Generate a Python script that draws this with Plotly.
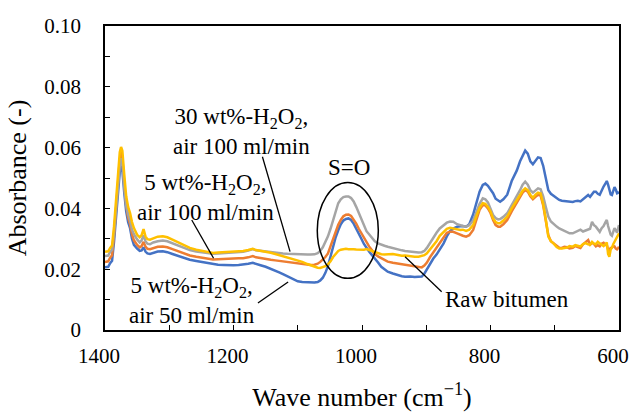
import plotly.graph_objects as go

wavenumber = [1400,1395,1392,1389,1386,1383,1380,1377,1375,1373,1370,1367,1364,1361,1358,1355,1350,1346,1343,1340,1337,1334,1330,1325,1318,1310,1303,1295,1285,1275,1268,1258,1248,1240,1232,1224,1215,1207,1200,1192,1185,1177,1170,1165,1158,1150,1142,1135,1128,1123,1116,1110,1105,1100,1093,1085,1080,1074,1069,1065,1061,1057,1053,1049,1045,1041,1037,1033,1029,1025,1021,1017,1013,1009,1005,1001,997,993,989,985,980,975,970,965,960,952,944,938,933,925,918,912,907,903,899,894,889,884,879,873,868,863,858,852,847,843,838,833,827,822,817,812,808,804,800,796,792,788,785,780,774,767,759,754,750,746,742,738,734,730,726,722,718,714,710,706,702,697,693,689,685,681,677,672,668,664,660,656,652,648,645,642,639,636,633,630,627,624,621,619,617,615,613,611,609,607,605,603,601,600]

air50_5wt = [.0206,.0208,.0220,.0228,.0290,.0370,.0450,.0520,.0540,.0525,.0450,.0390,.0355,.0335,.0300,.0280,.0268,.0260,.0262,.0272,.0258,.0252,.0250,.0253,.0258,.0259,.0256,.0250,.0242,.0235,.0231,.0227,.0223,.0219,.0216,.0215,.0214,.0213,.0213,.0214,.0215,.0218,.0221,.0217,.0213,.0208,.0202,.0196,.0189,.0184,.0177,.0170,.0164,.0160,.0158,.0157,.0156,.0156,.0158,.0163,.0172,.0188,.0210,.0240,.0278,.0305,.0328,.0348,.0360,.0365,.0367,.0362,.0350,.0335,.0318,.0300,.0283,.0268,.0258,.0248,.0236,.0222,.0208,.0199,.0192,.0186,.0180,.0177,.0175,.0176,.0174,.0175,.0176,.0185,.0200,.0218,.0235,.0248,.0265,.0285,.0308,.0325,.0334,.0340,.0341,.0342,.0340,.0348,.0380,.0420,.0455,.0477,.0482,.0474,.0462,.0450,.0432,.0425,.0422,.0430,.0445,.0490,.0525,.0555,.0575,.0590,.0580,.0555,.0545,.0558,.0568,.0566,.0540,.0500,.0460,.0448,.0442,.0433,.0428,.0425,.0424,.0422,.0420,.0421,.0424,.0425,.0423,.0430,.0440,.0444,.0438,.0448,.0455,.0455,.0448,.0445,.0460,.0472,.0482,.0490,.0478,.0460,.0446,.0444,.0458,.0470,.0462,.0450,.0452,.0455]

air100_5wt = [.0224,.0226,.0238,.0246,.0310,.0395,.0480,.0560,.0585,.0565,.0480,.0410,.0370,.0348,.0315,.0295,.0280,.0272,.0276,.0290,.0274,.0267,.0266,.0270,.0274,.0275,.0272,.0266,.0258,.0250,.0245,.0241,.0238,.0235,.0232,.0233,.0233,.0234,.0235,.0236,.0236,.0239,.0243,.0239,.0236,.0233,.0231,.0229,.0227,.0226,.0224,.0222,.0220,.0219,.0217,.0215,.0214,.0215,.0218,.0224,.0231,.0240,.0252,.0275,.0305,.0328,.0346,.0362,.0374,.0379,.0380,.0375,.0364,.0350,.0333,.0318,.0300,.0288,.0275,.0264,.0250,.0242,.0236,.0230,.0225,.0221,.0218,.0216,.0214,.0211,.0208,.0206,.0206,.0212,.0222,.0240,.0255,.0270,.0288,.0305,.0320,.0323,.0323,.0318,.0313,.0310,.0307,.0312,.0329,.0365,.0395,.0411,.0410,.0400,.0385,.0362,.0345,.0340,.0340,.0348,.0362,.0390,.0417,.0438,.0452,.0460,.0455,.0440,.0430,.0438,.0445,.0442,.0410,.0360,.0312,.0292,.0285,.0276,.0271,.0270,.0274,.0272,.0268,.0270,.0276,.0273,.0270,.0282,.0290,.0296,.0281,.0287,.0283,.0275,.0279,.0275,.0284,.0287,.0280,.0280,.0265,.0262,.0270,.0271,.0276,.0275,.0268,.0265,.0270,.0274]

air100_30wt = [.0243,.0245,.0257,.0264,.0320,.0400,.0470,.0540,.0565,.0550,.0470,.0410,.0380,.0360,.0330,.0315,.0298,.0288,.0295,.0312,.0292,.0284,.0282,.0288,.0292,.0294,.0292,.0285,.0276,.0268,.0263,.0258,.0255,.0253,.0251,.0252,.0253,.0254,.0255,.0256,.0257,.0261,.0266,.0262,.0260,.0258,.0257,.0255,.0253,.0252,.0251,.0250,.0250,.0250,.0249,.0248,.0248,.0249,.0253,.0260,.0272,.0288,.0308,.0333,.0362,.0392,.0417,.0430,.0437,.0439,.0439,.0434,.0423,.0405,.0386,.0365,.0343,.0325,.0315,.0305,.0292,.0285,.0280,.0277,.0274,.0269,.0265,.0262,.0260,.0258,.0256,.0255,.0256,.0260,.0270,.0288,.0305,.0320,.0334,.0345,.0353,.0357,.0356,.0348,.0344,.0342,.0340,.0345,.0360,.0385,.0415,.0433,.0430,.0420,.0400,.0378,.0368,.0364,.0365,.0372,.0384,.0410,.0439,.0460,.0478,.0488,.0478,.0460,.0452,.0460,.0466,.0463,.0440,.0405,.0373,.0357,.0348,.0340,.0334,.0330,.0325,.0320,.0318,.0318,.0322,.0328,.0330,.0324,.0328,.0331,.0333,.0356,.0345,.0340,.0330,.0323,.0335,.0342,.0355,.0362,.0342,.0330,.0314,.0310,.0325,.0335,.0328,.0320,.0338,.0345]

raw_bitumen = [.0257,.0259,.0270,.0278,.0340,.0430,.0510,.0585,.0602,.0590,.0510,.0440,.0405,.0385,.0355,.0335,.0313,.0305,.0312,.0332,.0308,.0299,.0297,.0302,.0307,.0308,.0305,.0297,.0286,.0276,.0270,.0264,.0260,.0256,.0253,.0255,.0256,.0257,.0258,.0259,.0260,.0263,.0267,.0263,.0261,.0257,.0254,.0250,.0246,.0243,.0239,.0236,.0233,.0230,.0224,.0217,.0213,.0208,.0205,.0204,.0206,.0210,.0216,.0226,.0240,.0252,.0260,.0264,.0266,.0267,.0266,.0267,.0266,.0265,.0264,.0263,.0264,.0266,.0263,.0260,.0255,.0251,.0249,.0248,.0249,.0250,.0247,.0244,.0245,.0242,.0241,.0241,.0243,.0246,.0252,.0265,.0278,.0292,.0310,.0322,.0333,.0336,.0334,.0330,.0329,.0330,.0326,.0330,.0345,.0375,.0402,.0417,.0415,.0405,.0390,.0367,.0355,.0351,.0351,.0360,.0373,.0400,.0428,.0445,.0458,.0466,.0460,.0445,.0435,.0445,.0452,.0449,.0415,.0365,.0307,.0292,.0285,.0273,.0268,.0268,.0270,.0271,.0276,.0274,.0279,.0276,.0275,.0283,.0286,.0282,.0280,.0290,.0284,.0282,.0290,.0285,.0279,.0276,.0283,.0288,.0250,.0241,.0265,.0270,.0282,.0290,.0300,.0310,.0315,.0318]

series_names = ["5 wt%-H2O2, air 50 ml/min", "5 wt%-H2O2, air 100 ml/min",
                "30 wt%-H2O2, air 100 ml/min", "Raw bitumen"]
series_colors = ["#4472C4", "#ED7D31", "#A5A5A5", "#FFC000"]

x_tick_vals = [1400, 1200, 1000, 800, 600]
x_tick_text = ["1400", "1200", "1000", "800", "600"]
y_tick_vals = [0, 0.02, 0.04, 0.06, 0.08, 0.10]
y_tick_text = ["0", "0.02", "0.04", "0.06", "0.08", "0.10"]

FONT = "Liberation Serif"

fig = go.Figure()
for name, vals, col in zip(series_names,
                           [air50_5wt, air100_5wt, air100_30wt, raw_bitumen],
                           series_colors):
    fig.add_trace(go.Scatter(x=wavenumber, y=vals, mode="lines", name=name,
                             line=dict(color=col, width=2.5)))

ann_font = dict(family=FONT, size=23, color="black")
annotations = [
    dict(x=1188, y=0.0653, text="30 wt%-H<sub>2</sub>O<sub>2</sub>,<br>air 100 ml/min"),
    dict(x=1244, y=0.0436, text="5 wt%-H<sub>2</sub>O<sub>2</sub>,<br>air 100 ml/min"),
    dict(x=1265, y=0.0097, text="5 wt%-H<sub>2</sub>O<sub>2</sub>,<br>air 50 ml/min"),
    dict(x=1020, y=0.0533, text="S=O"),
    dict(x=774, y=0.0099, text="Raw bitumen"),
]
for a in annotations:
    fig.add_annotation(x=a["x"], y=a["y"], text=a["text"], showarrow=False,
                       xref="x", yref="y", font=ann_font, align="center")

leader_lines = [
    (1155, 0.0570, 1112, 0.0258),
    (1265, 0.0362, 1231, 0.0236),
    (1162, 0.0089, 1115, 0.0158),
    (933, 0.0241, 876, 0.0126),
]
for x0, y0, x1, y1 in leader_lines:
    fig.add_shape(type="line", x0=x0, y0=y0, x1=x1, y1=y1, xref="x", yref="y",
                  line=dict(color="black", width=1.3))

fig.add_shape(type="circle", x0=1069.6, x1=974.6, y0=0.0170, y1=0.0485,
              xref="x", yref="y", line=dict(color="black", width=1.5))

fig.update_layout(
    width=631, height=412,
    margin=dict(l=105, r=12, t=26, b=82),
    paper_bgcolor="white", plot_bgcolor="white",
    showlegend=False,
    font=dict(family=FONT, color="black"),
    xaxis=dict(range=[1400, 600], tickvals=x_tick_vals, ticktext=x_tick_text,
               automargin=False,
               ticks="inside", ticklen=5, tickcolor="black",
               minor=dict(dtick=100, ticks="inside", ticklen=5, tickcolor="black"),
               showline=True, linecolor="black", linewidth=1.5, mirror=True,
               showgrid=False, zeroline=False,
               tickfont=dict(family=FONT, size=21, color="black"),
               ticklabelstandoff=6, ticklabelshift=6, ticklabeloverflow="allow",
               title=dict(text="Wave number (cm<sup>\u22121</sup>)",
                          font=dict(family=FONT, size=26, color="black"), standoff=28)),
    yaxis=dict(range=[0, 0.10], tickvals=y_tick_vals, ticktext=y_tick_text,
               automargin=False,
               ticks="inside", ticklen=5, tickcolor="black",
               minor=dict(dtick=0.01, ticks="inside", ticklen=5, tickcolor="black"),
               showline=True, linecolor="black", linewidth=1.5, mirror=True,
               showgrid=False, zeroline=False,
               tickfont=dict(family=FONT, size=21, color="black"),
               ticklabelstandoff=18,
               title=dict(text="Absorbance (-)",
                          font=dict(family=FONT, size=26, color="black"), standoff=10)),
)

fig.write_html("out.html", config={"displayModeBar": False},
               post_script="document.body.style.margin='0';document.body.style.overflow='hidden';document.documentElement.style.overflow='hidden';")
